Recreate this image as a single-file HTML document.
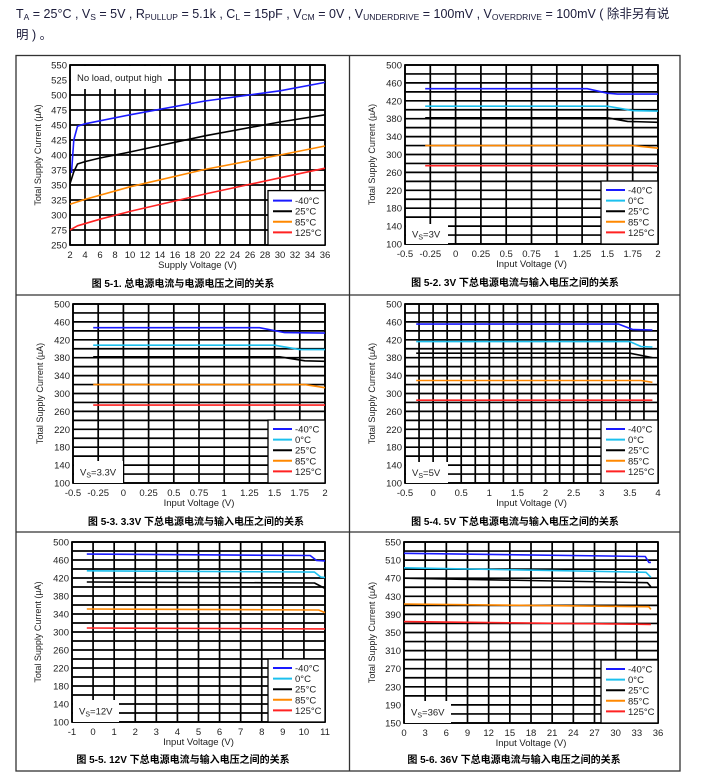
<!DOCTYPE html>
<html><head><meta charset="utf-8"><style>
html,body{margin:0;padding:0;background:#fff;}
body{width:703px;height:782px;overflow:hidden;position:relative;font-family:"Liberation Sans","Noto Sans CJK SC",sans-serif;}
#hdr{position:absolute;left:16px;top:5px;font-size:12.5px;line-height:18px;color:#1b1b3a;width:680px;}
#hdr sub{font-size:8.5px;vertical-align:-2px;}
svg{position:absolute;left:0;top:0;}
</style></head><body>
<div id="hdr">T<sub>A</sub> = 25°C , V<sub>S</sub> = 5V , R<sub>PULLUP</sub> = 5.1k , C<sub>L</sub> = 15pF , V<sub>CM</sub> = 0V , V<sub>UNDERDRIVE</sub> = 100mV , V<sub>OVERDRIVE</sub> = 100mV ( 除非另有说<br>明 ) 。</div>
<svg id="s" width="703" height="782" xmlns="http://www.w3.org/2000/svg"></svg>
<script>
// ---- chart 1 data ----
const c1_m40 = [[2.2,370],[2.5,425],[3,448],[4,452],[10,467],[20,490],[30,507],[36,521]];
const c1_25 = [[2,352],[2.5,372],[3,385],[4,389],[6,395],[10,405],[20,432],[30,455],[36,467]];
const c1_85 = [[2,318],[4,326],[10,347],[20,376],[30,400],[36,415]];
const c1_125 = [[2,275],[3,282],[6,293],[10,306],[20,335],[30,362],[36,378]];
const c1_xticks = [2,4,6,8,10,12,14,16,18,20,22,24,26,28,30,32,34,36];
const c1_yticks = [250,275,300,325,350,375,400,425,450,475,500,525,550];
// ---- chart 2 data (Vs=3V) ----
const c2_m40 = [[-0.3,447],[1.3,447],[1.5,437],[1.6,435],[2,435]];
const c2_0 = [[-0.3,408],[1.5,408],[1.75,398],[2,397]];
const c2_25 = [[-0.3,382],[1.5,382],[1.7,374],[2,372]];
const c2_85 = [[-0.3,320],[1.75,320],[2,314]];
const c2_125 = [[-0.3,275],[1.9,275],[2,274]];
// ---- chart 3 data (Vs=3.3V) ----
const c3_m40 = [[-0.3,447],[1.35,447],[1.6,436],[2,435]];
const c3_0 = [[-0.3,408],[1.5,408],[1.75,398],[2,398]];
const c3_25 = [[-0.3,382],[1.55,382],[1.8,373],[2,372]];
const c3_85 = [[-0.3,320],[1.8,320],[2,313]];
const c3_125 = [[-0.3,274],[2,274]];
const c23_xticks = [-0.5,-0.25,0,0.25,0.5,0.75,1,1.25,1.5,1.75,2];
const c2345_yticks = [100,140,180,220,260,300,340,380,420,460,500];
// ---- chart 4 data (Vs=5V) ----
const c4_m40 = [[-0.3,455],[3.3,455],[3.55,443],[3.9,442]];
const c4_0 = [[-0.3,416],[3.5,416],[3.7,405],[3.9,404]];
const c4_25 = [[-0.3,390],[3.5,390],[3.9,380]];
const c4_85 = [[-0.3,329],[3.7,329],[3.9,325]];
const c4_125 = [[-0.3,285],[3.9,285]];
const c4_xticks = [-0.5,0,0.5,1,1.5,2,2.5,3,3.5,4];
// ---- chart 5 data (Vs=12V) ----
const c5_m40 = [[-0.3,473],[10.3,470],[10.6,459],[11,458]];
const c5_0 = [[-0.3,436],[10.5,433],[10.8,422],[11,421]];
const c5_25 = [[-0.3,411],[10.5,409],[11,397]];
const c5_85 = [[-0.3,351],[10.7,349],[11,343]];
const c5_125 = [[-0.3,309],[11,307]];
const c5_xticks = [-1,0,1,2,3,4,5,6,7,8,9,10,11];
// ---- chart 6 data (Vs=36V) ----
const c6_m40 = [[0,525],[34.2,518],[34.7,505],[35,505]];
const c6_0 = [[0,493],[34.3,483],[35,472]];
const c6_25 = [[0,470],[34.5,460],[35,451]];
const c6_85 = [[0,413],[34.7,407],[35,401]];
const c6_125 = [[0,374],[35,368]];
const c6_xticks = [0,3,6,9,12,15,18,21,24,27,30,33,36];
const c6_yticks = [150,190,230,270,310,350,390,430,470,510,550];

const NS="http://www.w3.org/2000/svg";
const svg=document.getElementById('s');
function mk(tag,attrs,parent,text){const e=document.createElementNS(NS,tag);for(const k in attrs)e.setAttribute(k,attrs[k]);if(text!==undefined)e.textContent=text;(parent||svg).appendChild(e);return e;}
const COL={'-40°C':'#1a1aff','0°C':'#1cc0ee','25°C':'#000','85°C':'#ff8800','125°C':'#ff2222'};

// frame
let fr=mk('rect',{x:16,y:55.5,width:664,height:715.5,fill:'none',stroke:'#333','stroke-width':1.3});


let d1=mk('line',{x1:349.5,y1:55.5,x2:349.5,y2:771,stroke:'#333','stroke-width':1.3});


[295,532].forEach(y=>{let l=mk('line',{x1:16,y1:y,x2:680,y2:y,stroke:'#333','stroke-width':1.3});

});

function fmt(v){return String(v);}
function chart(o){
  const g=mk('g',{});
  
  
  const {L,R,T,B,xmin,xmax,ymin,ymax}=o;
  const sx=v=>L+(v-xmin)/(xmax-xmin)*(R-L);
  const sy=v=>B-(v-ymin)/(ymax-ymin)*(B-T);
  mk('rect',{x:L,y:T,width:R-L,height:B-T,fill:'#fff'},g);
  for(let v=xmin;v<=xmax+1e-9;v+=o.xgrid){const x=sx(v);const l=mk('line',{x1:x,y1:T,x2:x,y2:B,stroke:'#000','stroke-width':1.7},g);
    
    }
  for(let v=ymin;v<=ymax+1e-9;v+=o.ygrid){const y=sy(v);const l=mk('line',{x1:L,y1:y,x2:R,y2:y,stroke:'#000','stroke-width':1.7},g);
    
    }
  mk('rect',{x:L,y:T,width:R-L,height:B-T,fill:'none',stroke:'#000','stroke-width':1.7},g);
  o.xticks.forEach(v=>{const t=mk('text',{x:sx(v),y:B+13,'font-size':9.5,'text-anchor':'middle',fill:'#222'},g,fmt(v));
    
    });
  o.yticks.forEach(v=>{const t=mk('text',{x:L-3,y:sy(v)+3.5,'font-size':9.5,'text-anchor':'end',fill:'#222'},g,fmt(v));
    
    });
  const xt=mk('text',{x:(L+R)/2,y:B+23,'font-size':9.5,'text-anchor':'middle',fill:'#222'},g,o.xtitle);
  
  
  const yx=o.ytx, yy=(T+B)/2;
  const yt=mk('text',{x:yx,y:yy,'font-size':9,'text-anchor':'middle',fill:'#222',transform:`rotate(-90 ${yx} ${yy})`},g,'Total Supply Current (µA)');
  
  
  // note box
  if(o.note){
    const nb=mk('rect',{x:L+1,y:o.note.y,width:o.note.w,height:o.note.h,fill:'#fff'},g);
    
    
    const nt=mk('text',{x:L+7,y:o.note.y+o.note.h/2+3.5,'font-size':9.5,fill:'#222'},g);
    
    
    if(o.note.vs){mk('tspan',{},nt,'V');mk('tspan',{'font-size':7,dy:2},nt,'S');mk('tspan',{dy:-2},nt,'='+o.note.vs);}
    else nt.textContent=o.note.text;
  }
  // series
  o.series.forEach(s=>{
    const d=s.pts.map((p,i)=>(i?'L':'M')+sx(p[0]).toFixed(1)+','+sy(p[1]).toFixed(1)).join(' ');
    const p=mk('path',{d:d,fill:'none',stroke:COL[s.label],'stroke-width':1.6,'stroke-linejoin':'round'},g);
    
    
  });
  // legend
  const n=o.series.length, lh=10.6, lw=57, lhgt=n*lh+(n===4?12:10);
  const lx=R-lw, ly=B-lhgt;
  const lb=mk('rect',{x:lx,y:ly,width:lw,height:lhgt,fill:'#fff',stroke:'#000','stroke-width':1.3},g);
  
  
  o.series.forEach((s,i)=>{
    const y=ly+(n===4?10:9)+i*lh;
    const ll=mk('line',{x1:lx+5,y1:y,x2:lx+24,y2:y,stroke:COL[s.label],'stroke-width':2},g);
    
    
    const lt=mk('text',{x:lx+27,y:y+3.5,'font-size':9.5,fill:'#222'},g,s.label);
    
    
  });
  const c=mk('text',{x:o.capx,y:o.capy,'font-size':10,'font-weight':'bold','text-anchor':'middle',fill:'#000','font-family':'"Liberation Sans","Noto Sans CJK SC",sans-serif'},g,o.caption);
  
  
}
const five=(a,b,c,d,e)=>[{label:'-40°C',pts:a},{label:'0°C',pts:b},{label:'25°C',pts:c},{label:'85°C',pts:d},{label:'125°C',pts:e}];

chart({name:'chart-5-1',L:70,R:325,T:65,B:245,xmin:2,xmax:36,ymin:250,ymax:550,xgrid:2,ygrid:25,xticks:c1_xticks,yticks:c1_yticks,
  xtitle:'Supply Voltage (V)',ytx:41,capx:183,capy:287,caption:'图 5-1. 总电源电流与电源电压之间的关系',
  note:{y:66,w:97,h:23,text:'No load, output high'},
  series:[{label:'-40°C',pts:c1_m40},{label:'25°C',pts:c1_25},{label:'85°C',pts:c1_85},{label:'125°C',pts:c1_125}]});
chart({name:'chart-5-2',L:405,R:658,T:65,B:244,xmin:-0.5,xmax:2,ymin:100,ymax:500,xgrid:0.25,ygrid:20,xticks:c23_xticks,yticks:c2345_yticks,
  xtitle:'Input Voltage (V)',ytx:375,capx:515,capy:286,caption:'图 5-2. 3V 下总电源电流与输入电压之间的关系',
  note:{y:224,w:42,h:20,vs:'3V'},series:five(c2_m40,c2_0,c2_25,c2_85,c2_125)});
chart({name:'chart-5-3',L:73,R:325,T:304,B:483,xmin:-0.5,xmax:2,ymin:100,ymax:500,xgrid:0.25,ygrid:20,xticks:c23_xticks,yticks:c2345_yticks,
  xtitle:'Input Voltage (V)',ytx:43,capx:196,capy:525,caption:'图 5-3. 3.3V 下总电源电流与输入电压之间的关系',
  note:{y:461,w:49,h:22,vs:'3.3V'},series:five(c3_m40,c3_0,c3_25,c3_85,c3_125)});
chart({name:'chart-5-4',L:405,R:658,T:304,B:483,xmin:-0.5,xmax:4,ymin:100,ymax:500,xgrid:0.25,ygrid:20,xticks:c4_xticks,yticks:c2345_yticks,
  xtitle:'Input Voltage (V)',ytx:375,capx:515,capy:525,caption:'图 5-4. 5V 下总电源电流与输入电压之间的关系',
  note:{y:462,w:42,h:21,vs:'5V'},series:five(c4_m40,c4_0,c4_25,c4_85,c4_125)});
chart({name:'chart-5-5',L:72,R:325,T:542,B:722,xmin:-1,xmax:11,ymin:100,ymax:500,xgrid:1,ygrid:20,xticks:c5_xticks,yticks:c2345_yticks,
  xtitle:'Input Voltage (V)',ytx:41,capx:183,capy:763,caption:'图 5-5. 12V 下总电源电流与输入电压之间的关系',
  note:{y:700,w:46,h:22,vs:'12V'},series:five(c5_m40,c5_0,c5_25,c5_85,c5_125)});
chart({name:'chart-5-6',L:404,R:658,T:542,B:723,xmin:0,xmax:36,ymin:150,ymax:550,xgrid:3,ygrid:20,xticks:c6_xticks,yticks:c6_yticks,
  xtitle:'Input Voltage (V)',ytx:375,capx:514,capy:763,caption:'图 5-6. 36V 下总电源电流与输入电压之间的关系',
  note:{y:701,w:46,h:22,vs:'36V'},series:five(c6_m40,c6_0,c6_25,c6_85,c6_125)});
</script>
</body></html>
